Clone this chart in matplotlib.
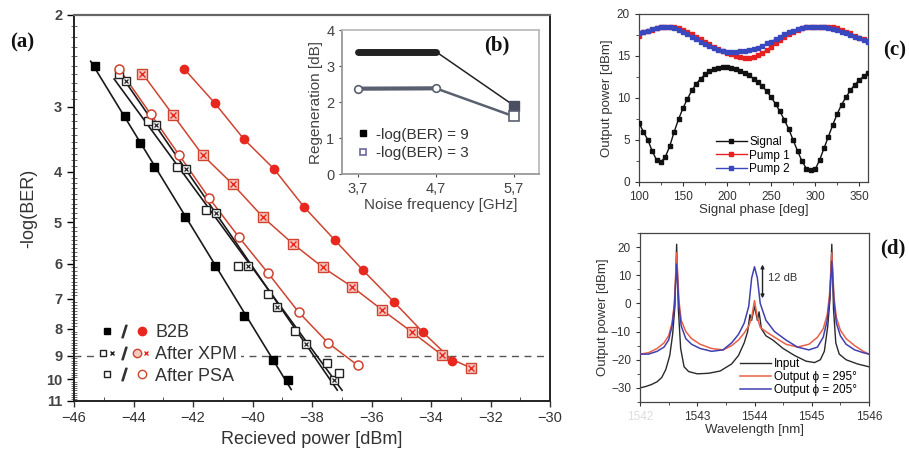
import numpy as np
import matplotlib
matplotlib.use('Agg')
import matplotlib.pyplot as plt
from matplotlib.lines import Line2D
from matplotlib.legend_handler import HandlerTuple
from matplotlib.ticker import MultipleLocator, NullFormatter

plt.rcParams['font.family'] = ['Liberation Sans', 'DejaVu Sans']

# (a) BER curves, received power [dBm] vs -log(BER)
b2b_k_x = [-45.29, -44.30, -43.78, -43.30, -42.28, -41.27, -40.29, -39.30, -38.80]
b2b_k_y = [2.50, 3.12, 3.52, 3.91, 4.87, 6.07, 7.55, 9.17, 10.02]
xpm_k_x = [-44.24, -43.25, -42.23, -41.23, -40.15, -39.17, -38.20, -37.25]
xpm_k_y = [2.68, 3.25, 3.94, 4.80, 6.07, 7.27, 8.56, 10.02]
psa_k_x = [-44.50, -43.51, -42.53, -41.56, -40.48, -39.49, -38.58, -37.51, -37.09]
psa_k_y = [2.59, 3.20, 3.91, 4.74, 6.05, 6.86, 8.07, 9.31, 9.70]
b2b_r_x = [-42.29, -41.27, -40.29, -39.29, -38.28, -37.24, -36.28, -35.26, -34.27, -33.28]
b2b_r_y = [2.54, 2.95, 3.46, 3.94, 4.66, 5.40, 6.18, 7.09, 8.12, 9.20]
xpm_r_x = [-43.70, -42.67, -41.68, -40.67, -39.64, -38.63, -37.63, -36.64, -35.65, -34.63, -33.64, -32.65]
xpm_r_y = [2.59, 3.11, 3.71, 4.22, 4.89, 5.50, 6.10, 6.65, 7.35, 8.12, 8.97, 9.51]
psa_r_x = [-44.48, -43.42, -42.47, -41.47, -40.45, -39.47, -38.45, -37.45, -36.46]
psa_r_y = [2.54, 3.10, 3.71, 4.48, 5.34, 6.26, 7.43, 8.52, 9.40]
ber_ref = 9

# (b) regeneration vs noise frequency
noise_f = [3.7, 4.7, 5.7]
noise_labels = ['3,7', '4,7', '5,7']
regen_9 = [3.4, 3.4, 1.9]
regen_3 = [2.37, 2.38, 1.6]

# (c) output power vs signal phase
phase = list(range(100, 361, 5))
sig_pw = [7.0, 6.0, 5.0, 3.7, 2.6, 2.4, 3.0, 4.3, 6.0, 7.5, 8.8, 9.9, 10.9, 11.7, 12.3, 12.8,
          13.2, 13.4, 13.6, 13.7, 13.7, 13.6, 13.4, 13.2, 13.0, 12.7, 12.3, 11.9, 11.4, 10.8,
          10.1, 9.3, 8.4, 7.4, 6.3, 5.0, 3.7, 2.5, 1.6, 1.4, 1.5, 2.6, 4.0, 5.4, 6.8, 8.1,
          9.2, 10.1, 10.9, 11.6, 12.1, 12.6, 13.0]
pump1_pw = [17.4, 17.8, 18.0, 18.1, 18.3, 18.4, 18.5, 18.5, 18.5, 18.3, 18.1, 17.9, 17.6, 17.3,
            17.0, 16.7, 16.4, 16.1, 15.8, 15.6, 15.4, 15.2, 15.0, 14.9, 14.8, 14.8, 14.9, 15.1,
            15.4, 15.7, 16.1, 16.5, 16.9, 17.3, 17.6, 17.9, 18.1, 18.3, 18.4, 18.5, 18.5, 18.5,
            18.5, 18.5, 18.4, 18.3, 18.1, 17.9, 17.7, 17.4, 17.2, 17.0, 16.8]
pump2_pw = [17.7, 17.9, 18.0, 18.2, 18.3, 18.4, 18.4, 18.4, 18.3, 18.1, 17.9, 17.6, 17.3, 17.0,
            16.7, 16.4, 16.2, 15.9, 15.7, 15.6, 15.5, 15.5, 15.5, 15.6, 15.6, 15.7, 15.8, 16.0,
            16.2, 16.5, 16.7, 17.0, 17.3, 17.6, 17.8, 18.0, 18.2, 18.3, 18.4, 18.4, 18.4, 18.4,
            18.4, 18.3, 18.2, 18.1, 17.9, 17.7, 17.5, 17.3, 17.1, 16.9, 16.7]

# (d) spectra
wl_in = [1542.0, 1542.1, 1542.2, 1542.3, 1542.38, 1542.45, 1542.52, 1542.57, 1542.61, 1542.64,
         1542.67, 1542.71, 1542.77, 1542.85, 1543.0, 1543.2, 1543.4, 1543.6, 1543.72, 1543.82,
         1543.88, 1543.92, 1543.95, 1544.0, 1544.05, 1544.08, 1544.12, 1544.2, 1544.32, 1544.5,
         1544.7, 1544.9, 1545.05, 1545.15, 1545.22, 1545.28, 1545.32, 1545.35, 1545.38, 1545.42,
         1545.48, 1545.6, 1545.8, 1546.0]
p_in = [-30.0, -29.5, -28.8, -27.8, -26.3, -23.5, -18.5, -11.0, -1.0, 21.0,
        -2.0, -16.0, -22.5, -24.2, -25.0, -24.8, -24.0, -21.5, -18.5, -14.0,
        -10.0, -4.0, -6.0, -1.0, -6.0, -3.0, -9.0, -11.5, -13.0, -16.0,
        -18.5, -20.5, -21.0, -20.0, -17.0, -8.0, 2.0, 21.0, -2.0, -14.0,
        -18.0, -20.0, -21.5, -22.5]
wl_out = [1542.0, 1542.15, 1542.3, 1542.42, 1542.5, 1542.56, 1542.6, 1542.64, 1542.68, 1542.72,
          1542.8, 1542.9, 1543.05, 1543.25, 1543.45, 1543.6, 1543.72, 1543.82, 1543.9, 1543.95,
          1544.0, 1544.05, 1544.1, 1544.2, 1544.35, 1544.55, 1544.75, 1544.95, 1545.1, 1545.2,
          1545.27, 1545.31, 1545.35, 1545.39, 1545.43, 1545.5, 1545.6, 1545.75, 1545.9, 1546.0]
p_295 = [-18.0, -17.5, -16.0, -14.0, -11.5, -7.0, 0.0, 18.0, 1.0, -6.0,
         -10.0, -12.5, -14.5, -16.0, -16.5, -15.0, -13.0, -10.5, -8.0, -5.0,
         1.0, -5.0, -8.5, -10.0, -12.0, -14.5, -15.5, -14.5, -12.0, -9.0,
         -4.0, 3.0, 18.0, 2.0, -5.0, -9.5, -12.5, -15.0, -17.0, -18.0]
p_205 = [-18.0, -18.0, -17.0, -15.5, -13.0, -8.0, -1.0, 14.0, -1.0, -8.0,
         -12.5, -14.5, -16.0, -17.0, -16.5, -14.0, -11.0, -7.0, -1.0, 9.0,
         13.0, 9.0, 0.0, -6.0, -10.0, -13.0, -15.5, -16.5, -15.5, -12.0,
         -6.0, 1.0, 15.0, 0.0, -7.0, -11.5, -14.5, -16.5, -17.5, -18.0]

RED = '#e8281e'
RED_LINE = '#cf4330'
GRAY = '#333333'

fig = plt.figure(figsize=(9.09, 4.54), dpi=100)

# ---------------- (a) ----------------
ax = fig.add_axes([74 / 909, 1 - 401 / 454, 476 / 909, 386 / 454])
ax.set_yscale('log')


def fit_line(x, y):
    c = np.polyfit(x, np.log10(y), 1)
    xx = np.array([x[0] - 0.15, x[-1] + 0.1])
    return xx, 10 ** np.polyval(c, xx)


for xs, ys in [(b2b_k_x, b2b_k_y), (xpm_k_x, xpm_k_y), (psa_k_x, psa_k_y)]:
    fx, fy = fit_line(xs, ys)
    ax.plot(fx, fy, color='#1a1a1a', lw=1.2, zorder=2)

for xs, ys in [(b2b_r_x, b2b_r_y), (xpm_r_x, xpm_r_y), (psa_r_x, psa_r_y)]:
    ax.plot(xs, ys, color=RED_LINE, lw=1.1, zorder=2)

ax.plot(b2b_k_x, b2b_k_y, 's', color='k', ms=5.5, zorder=3)
ax.plot(xpm_k_x, xpm_k_y, 's', mfc='white', mec='#222', mew=1, ms=6, zorder=3)
ax.plot(xpm_k_x, xpm_k_y, 'x', color='#222', ms=3.5, mew=0.9, zorder=4)
ax.plot(psa_k_x, psa_k_y, 's', mfc='white', mec='#222', mew=1, ms=6, zorder=3)
ax.plot(b2b_r_x, b2b_r_y, 'o', color=RED, ms=6, zorder=3)
ax.plot(xpm_r_x, xpm_r_y, 's', mfc='#f6c8c0', mec=RED_LINE, mew=1, ms=6.5, zorder=3)
ax.plot(xpm_r_x, xpm_r_y, 'x', color=RED, ms=4, mew=1, zorder=4)
ax.plot(psa_r_x, psa_r_y, 'o', mfc='white', mec=RED_LINE, mew=1.1, ms=6.5, zorder=3)

ax.axhline(ber_ref, color='#555', lw=1, dashes=(5, 4), zorder=1)

ax.set_xlim(-46, -30)
ax.set_ylim(11, 2)
ax.set_xticks(range(-46, -29, 2))
ax.xaxis.set_minor_locator(MultipleLocator(1))
ax.set_yticks(range(2, 12))
ax.set_yticklabels([str(v) for v in range(2, 12)], fontweight='bold', color='#444')
ax.set_yticks(np.arange(2, 11.01, 0.1), minor=True)
ax.yaxis.set_minor_formatter(NullFormatter())
ax.tick_params(axis='x', which='major', direction='out', length=4, labelsize=10.5,
               colors='#333', width=1)
ax.tick_params(axis='x', which='minor', direction='in', length=3, color='#333')
ax.tick_params(axis='y', which='major', direction='out', length=5, labelsize=10.5, width=1)
ax.tick_params(axis='y', which='minor', direction='inout', length=4, width=0.6, color='#555')
for s in ['left', 'bottom', 'right']:
    ax.spines[s].set_color('#222')
    ax.spines[s].set_linewidth(1.4)
ax.spines['top'].set_color('#666')
ax.spines['top'].set_linewidth(1.6)
ax.set_xlabel('Recieved power [dBm]', fontsize=13, color='#333', labelpad=4)
ax.set_ylabel('-log(BER)', fontsize=13, color='#333', labelpad=6)

slash = Line2D([], [], marker='$/$', color='#333', ls='none', ms=9)
h_b2b = (Line2D([], [], marker='s', color='k', ls='none', ms=5), slash,
         Line2D([], [], marker='o', color=RED, ls='none', ms=6))
h_xpm = ((Line2D([], [], marker='s', mfc='white', mec='#222', ls='none', ms=5),
          Line2D([], [], marker='x', color='#222', ls='none', ms=3)), slash,
         (Line2D([], [], marker='o', mfc='#f6c8c0', mec=RED_LINE, ls='none', ms=6),
          Line2D([], [], marker='x', color=RED, ls='none', ms=3.5)))
h_psa = (Line2D([], [], marker='s', mfc='white', mec='#222', ls='none', ms=5), slash,
         Line2D([], [], marker='o', mfc='white', mec=RED_LINE, ls='none', ms=6))
leg = ax.legend([h_b2b, h_xpm, h_psa], ['B2B', 'After XPM', 'After PSA'],
                handler_map={tuple: HandlerTuple(ndivide=None, pad=0.25)},
                loc='lower left', bbox_to_anchor=(0.03, 0.01), fontsize=13,
                handlelength=2.6, handletextpad=0.4, labelspacing=0.25,
                borderpad=0.2, frameon=True, framealpha=1, facecolor='white',
                edgecolor='none')
for t in leg.get_texts():
    t.set_color('#333')

# ---------------- (b) inset ----------------
axb = fig.add_axes([342 / 909, 1 - 174 / 454, 197 / 909, 144 / 454])
axb.plot(noise_f[:2], regen_9[:2], color='#222', lw=5, solid_capstyle='round', zorder=2)
axb.plot(noise_f[1:], regen_9[1:], color='#222', lw=1.1, zorder=2)
axb.plot(noise_f[:2], regen_3[:2], color='#5a6070', lw=3, solid_capstyle='round', zorder=2)
axb.plot(noise_f[1:], regen_3[1:], color='#5a6070', lw=1.8, zorder=2)
axb.plot(noise_f[2:], regen_9[2:], 's', color='#4a5060', ms=7, zorder=3)
axb.plot(noise_f, regen_3, 'o', mfc='white', mec='#5a6070', mew=1.2, ms=5.5, zorder=3)
axb.plot(noise_f[2:], regen_3[2:], 's', mfc='white', mec='#5a6070', mew=1.2, ms=6.5, zorder=3)
axb.set_xlim(3.5, 6.02)
axb.set_ylim(0, 4)
axb.set_xticks(noise_f)
axb.set_xticklabels(noise_labels)
axb.set_yticks(range(0, 5))
axb.tick_params(labelsize=10.5, colors='#444', length=2, direction='out')
for s in axb.spines.values():
    s.set_color('#bbbbbb')
    s.set_linewidth(1.3)
axb.spines['left'].set_color('#999')
axb.spines['bottom'].set_color('#999')
axb.set_xlabel('Noise frequency [GHz]', fontsize=11, color='#444', labelpad=2)
axb.set_ylabel('Regeneration [dB]', fontsize=11, color='#444', labelpad=2)
lb = axb.legend([Line2D([], [], marker='s', color='k', ls='none', ms=5),
                 Line2D([], [], marker='s', mfc='white', mec='#6a6a9a', mew=1.2, ls='none', ms=5)],
                ['-log(BER) = 9', '-log(BER) = 3'], loc='lower left',
                bbox_to_anchor=(0.0, 0.0), fontsize=11, frameon=False,
                handlelength=1.0, handletextpad=0.3, labelspacing=0.3)
for t in lb.get_texts():
    t.set_color('#333')

# ---------------- (c) ----------------
axc = fig.add_axes([639 / 909, 1 - 182 / 454, 229 / 909, 168 / 454])
axc.plot(phase, pump1_pw, '-s', color='#e82020', lw=1, ms=3, label='Pump 1', zorder=2)
axc.plot(phase, pump2_pw, '-s', color='#3a48c0', lw=1, ms=3, label='Pump 2', zorder=3)
axc.plot(phase, sig_pw, '-s', color='#111', lw=1, ms=2.6, label='Signal', zorder=4)
axc.set_xlim(100, 360)
axc.set_ylim(0, 20)
axc.set_xticks(range(100, 351, 50))
axc.xaxis.set_minor_locator(MultipleLocator(25))
axc.set_yticks(range(0, 21, 5))
axc.yaxis.set_minor_locator(MultipleLocator(2.5))
axc.tick_params(which='both', labelsize=8.5, colors='#333', direction='out')
axc.tick_params(which='major', length=3)
axc.tick_params(which='minor', length=2)
for s in axc.spines.values():
    s.set_color('#444')
    s.set_linewidth(0.9)
axc.set_xlabel('Signal phase [deg]', fontsize=9.5, color='#333', labelpad=1)
axc.set_ylabel('Output power [dBm]', fontsize=9.5, color='#333', labelpad=3)
hc, lc = axc.get_legend_handles_labels()
axc.legend([hc[2], hc[0], hc[1]], [lc[2], lc[0], lc[1]], loc='lower left',
           bbox_to_anchor=(0.29, -0.02), fontsize=8.5, frameon=False,
           handlelength=2.6, handletextpad=0.2, labelspacing=0.1)

# ---------------- (d) ----------------
axd = fig.add_axes([640 / 909, 1 - 402 / 454, 229 / 909, 169 / 454])
axd.plot(wl_in, p_in, color='#2a2a2a', lw=1, label='Input', zorder=2)
axd.plot(wl_out, p_295, color='#ea6048', lw=1.1, label='Output \u03d5 = 295\u00b0', zorder=3)
axd.plot(wl_out, p_205, color='#4040b0', lw=1.1, label='Output \u03d5 = 205\u00b0', zorder=4)
i_c = wl_out.index(1544.0)
x_arrow = 1544.14
axd.annotate('', xy=(x_arrow, p_205[i_c] + 0.8), xytext=(x_arrow, p_295[i_c] + 0.8),
             arrowprops=dict(arrowstyle='<|-|>', color='#222', lw=1, mutation_scale=5,
                             shrinkA=0, shrinkB=0))
axd.text(x_arrow + 0.09, (p_205[i_c] + p_295[i_c]) / 2 + 2, '12 dB', fontsize=8,
         color='#333', va='center')
axd.set_xlim(1542, 1546)
axd.set_ylim(-35, 25)
axd.set_xticks(range(1542, 1547))
axd.xaxis.set_minor_locator(MultipleLocator(0.5))
axd.set_yticks(range(-30, 21, 10))
axd.yaxis.set_minor_locator(MultipleLocator(5))
axd.tick_params(which='both', labelsize=8.5, colors='#333', direction='out')
axd.tick_params(which='major', length=3)
axd.tick_params(which='minor', length=2)
axd.get_xticklabels()[0].set_color('#dddddd')
for s in axd.spines.values():
    s.set_color('#444')
    s.set_linewidth(0.9)
axd.set_xlabel('Wavelength [nm]', fontsize=9.5, color='#333', labelpad=1)
axd.set_ylabel('Output power [dBm]', fontsize=9.5, color='#333', labelpad=1)
axd.legend(loc='lower left', bbox_to_anchor=(0.39, -0.03), fontsize=8.5, frameon=False,
           handlelength=2.6, handletextpad=0.3, labelspacing=0.1)

# panel letters
for txt, x, y in [('(a)', 22, 42), ('(b)', 497, 45), ('(c)', 895, 50), ('(d)', 893, 248)]:
    fig.text(x / 909, 1 - y / 454, txt, fontsize=15, fontweight='bold',
             family='Liberation Serif', ha='center', va='center', color='#111')

fig.savefig('out.png', dpi=100)
